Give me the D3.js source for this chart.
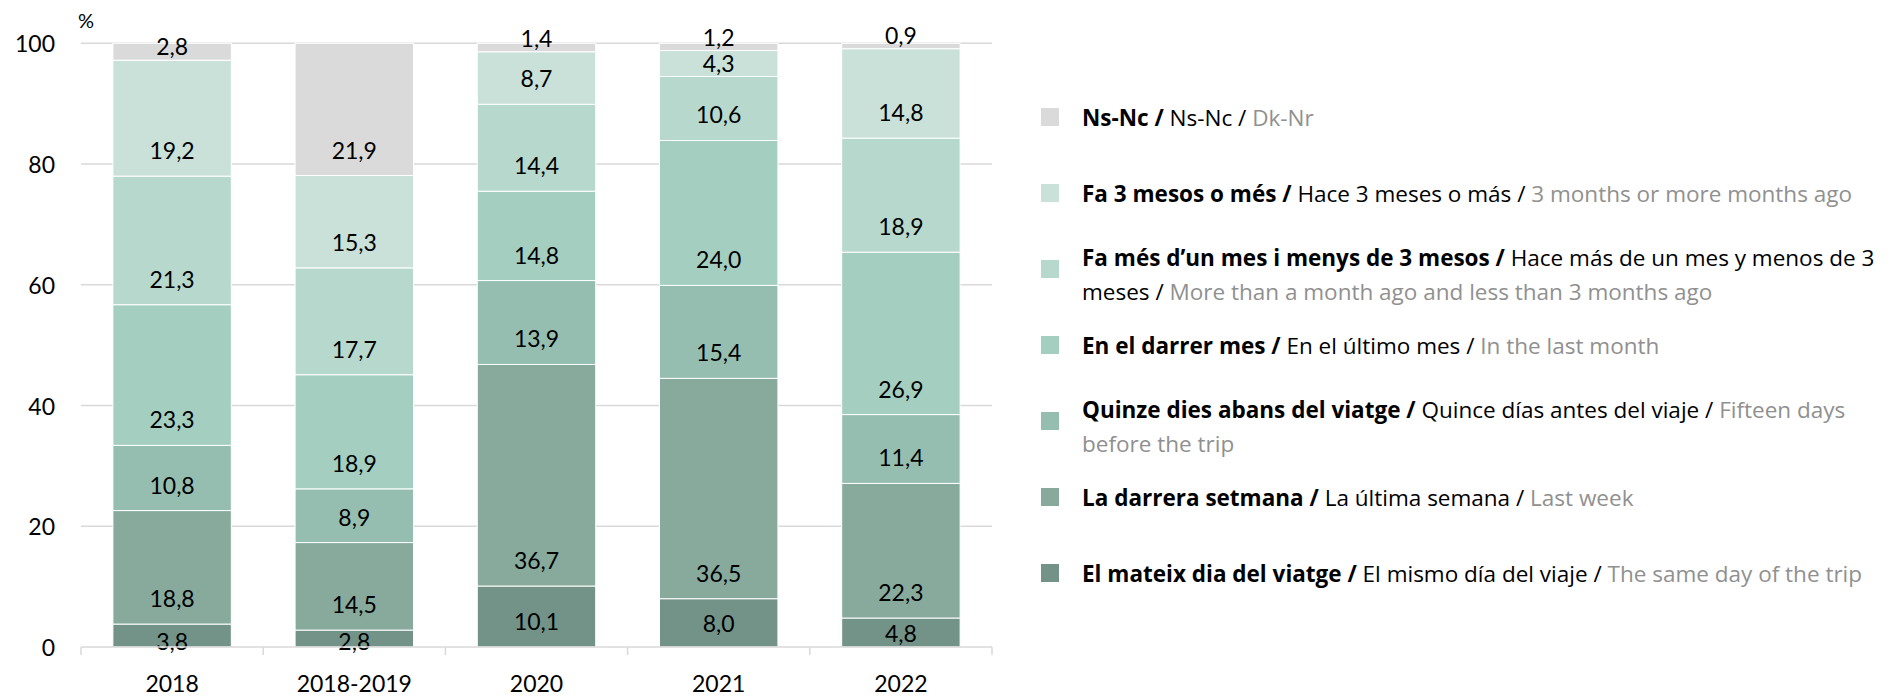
<!DOCTYPE html>
<html>
<head>
<meta charset="utf-8">
<script src="https://cdn.jsdelivr.net/npm/d3@7"></script>
<style>
  body { margin: 0; background: #fff; }
  svg { display: block; font-family: Lato, "Open Sans", sans-serif; }
</style>
</head>
<body>
<div id="chart"></div>
<script>
// categories (x axis)
var years = ["2018", "2018-2019", "2020", "2021", "2022"];

// series, bottom of the stack first
var mateixDia      = [3.8, 2.8, 10.1, 8.0, 4.8];
var darreraSetmana = [18.8, 14.5, 36.7, 36.5, 22.3];
var quinzeDies     = [10.8, 8.9, 13.9, 15.4, 11.4];
var darrerMes      = [23.3, 18.9, 14.8, 24.0, 26.9];
var mesMenys3      = [21.3, 17.7, 14.4, 10.6, 18.9];
var tresMesos      = [19.2, 15.3, 8.7, 4.3, 14.8];
var nsNc           = [2.8, 21.9, 1.4, 1.2, 0.9];

var yTicks = [0, 20, 40, 60, 80, 100];

// legend texts (catalan / spanish / english), same order as the stack
var labelsCa = ["El mateix dia del viatge", "La darrera setmana", "Quinze dies abans del viatge",
    "En el darrer mes", "Fa més d\u2019un mes i menys de 3 mesos", "Fa 3 mesos o més", "Ns-Nc"];
var labelsEs = ["El mismo día del viaje", "La última semana", "Quince días antes del viaje",
    "En el último mes", "Hace más de un mes y menos de 3 meses", "Hace 3 meses o más", "Ns-Nc"];
var labelsEn = ["The same day of the trip", "Last week", "Fifteen days before the trip",
    "In the last month", "More than a month ago and less than 3 months ago", "3 months or more months ago", "Dk-Nr"];

var colors = ["#739388", "#87aa9d", "#96beb0", "#a4cfc0", "#b7d8cc", "#c9e1d8", "#dadada"];

var series = [mateixDia, darreraSetmana, quinzeDies, darrerMes, mesMenys3, tresMesos, nsNc];
var keys = ["s0", "s1", "s2", "s3", "s4", "s5", "s6"];

var rows = years.map(function(y, i) {
    var r = { year: y };
    series.forEach(function(s, k) { r[keys[k]] = s[i]; });
    return r;
});

var W = 1891, H = 697;
var svg = d3.select('#chart').append('svg')
    .attr('width', W)
    .attr('height', H);

var x = d3.scaleBand()
    .domain(years)
    .range([81, 992])
    .paddingInner(0.35)
    .paddingOuter(0.175);

var y = d3.scaleLinear()
    .domain([0, 100])
    .range([647, 43.3]);

var fmt = function(v) { return d3.format('.1f')(v).replace('.', ','); };

// gridlines
svg.append('g')
    .selectAll('line')
    .data(yTicks.filter(function(t) { return t > 0; }))
    .enter()
    .append('line')
    .attr('x1', 81)
    .attr('x2', 992)
    .attr('y1', function(d) { return y(d); })
    .attr('y2', function(d) { return y(d); })
    .attr('stroke', '#d9d9d9')
    .attr('stroke-width', 1.5);

// y tick labels
svg.append('g')
    .selectAll('text')
    .data(yTicks)
    .enter()
    .append('text')
    .attr('x', 55)
    .attr('y', function(d) { return y(d); })
    .attr('text-anchor', 'end')
    .attr('dominant-baseline', 'central')
    .attr('font-size', 23)
    .attr('fill', '#000')
    .text(function(d) { return d; });

svg.append('text')
    .attr('x', 86)
    .attr('y', 20)
    .attr('text-anchor', 'middle')
    .attr('dominant-baseline', 'central')
    .attr('font-size', 20)
    .text('%');

var stack = d3.stack().keys(keys)(rows);

var layer = svg.append('g')
    .selectAll('g')
    .data(stack)
    .enter()
    .append('g')
    .attr('fill', function(d, i) { return colors[i]; });

layer.selectAll('rect')
    .data(function(d) { return d; })
    .enter()
    .append('rect')
    .attr('x', function(d) { return x(d.data.year); })
    .attr('width', x.bandwidth())
    .attr('y', function(d) { return y(d[1]); })
    .attr('height', function(d) { return y(d[0]) - y(d[1]); })
    .attr('stroke', '#fff')
    .attr('stroke-width', 1);

// value labels, sitting near the base of each segment
layer.selectAll('text')
    .data(function(d) { return d; })
    .enter()
    .append('text')
    .attr('x', function(d) { return x(d.data.year) + x.bandwidth() / 2; })
    .attr('y', function(d) {
        var bottom = y(d[0]), h = y(d[0]) - y(d[1]);
        var off = Math.max(14, Math.min(26, h / 2));
        if (d[0] === 0 && h < 26) off = 6;
        return bottom - off;
    })
    .attr('text-anchor', 'middle')
    .attr('dominant-baseline', 'central')
    .attr('font-size', 23)
    .attr('fill', '#000')
    .text(function(d) { return fmt(d[1] - d[0]); });

// x axis line and ticks
var axisY = y(0);
svg.append('line')
    .attr('x1', 81).attr('x2', 992)
    .attr('y1', axisY).attr('y2', axisY)
    .attr('stroke', '#d9d9d9')
    .attr('stroke-width', 1.5);

var step = x.step();
svg.append('g')
    .selectAll('line')
    .data(d3.range(years.length + 1))
    .enter()
    .append('line')
    .attr('x1', function(i) { return 81 + i * step; })
    .attr('x2', function(i) { return 81 + i * step; })
    .attr('y1', axisY)
    .attr('y2', axisY + 8)
    .attr('stroke', '#d9d9d9')
    .attr('stroke-width', 1.5);

svg.append('g')
    .selectAll('text')
    .data(years)
    .enter()
    .append('text')
    .attr('x', function(d) { return x(d) + x.bandwidth() / 2; })
    .attr('y', 683)
    .attr('text-anchor', 'middle')
    .attr('dominant-baseline', 'central')
    .attr('font-size', 23)
    .text(function(d) { return d; });

// legend, Ns-Nc on top
var legX = 1041, textX = 1082, maxW = 1888 - textX, lineH = 34;
var order = d3.range(series.length).reverse();

var leg = svg.append('g')
    .attr('font-family', '"Open Sans", Lato, sans-serif')
    .attr('font-size', 22.5);

order.forEach(function(k, i) {
    var cy = 117 + i * 76;
    leg.append('rect')
        .attr('x', legX)
        .attr('y', cy - 9)
        .attr('width', 18)
        .attr('height', 18)
        .attr('fill', colors[k]);

    var words = [];
    labelsCa[k].split(' ').concat(['/']).forEach(function(w) { words.push({ t: w, w: 'bold', c: '#000' }); });
    labelsEs[k].split(' ').concat(['/']).forEach(function(w) { words.push({ t: w, w: 'normal', c: '#000' }); });
    labelsEn[k].split(' ').forEach(function(w) { words.push({ t: w, w: 'normal', c: '#909090' }); });

    var lines = [[]];
    var probe = leg.append('text').attr('x', textX).attr('y', -100);
    words.forEach(function(wd) {
        var cur = lines[lines.length - 1];
        var ts = probe.append('tspan')
            .attr('font-weight', wd.w)
            .text((cur.length ? ' ' : '') + wd.t);
        if (cur.length && probe.node().getComputedTextLength() > maxW) {
            ts.remove();
            probe.selectAll('tspan').remove();
            probe.append('tspan').attr('font-weight', wd.w).text(wd.t);
            lines.push([wd]);
        } else {
            cur.push(wd);
        }
    });
    probe.remove();

    var y0 = lines.length > 1 ? cy - 12 : cy;
    lines.forEach(function(line, j) {
        var t = leg.append('text')
            .attr('x', textX)
            .attr('y', y0 + j * lineH)
            .attr('dominant-baseline', 'central');
        line.forEach(function(wd, m) {
            t.append('tspan')
                .attr('font-weight', wd.w)
                .attr('fill', wd.c)
                .text((m ? ' ' : '') + wd.t);
        });
    });
});
</script>
</body>
</html>
